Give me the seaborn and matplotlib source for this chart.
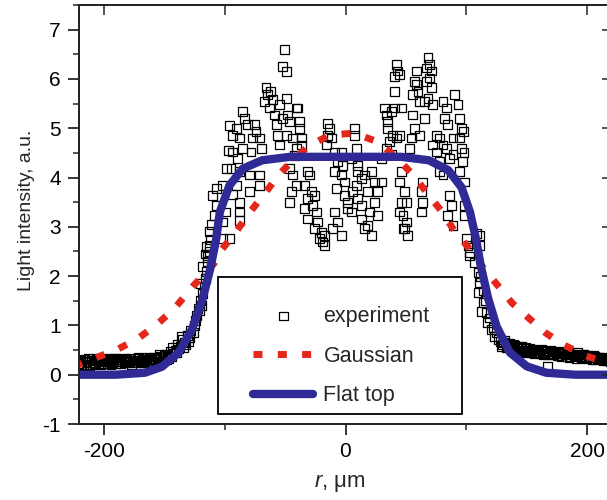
import matplotlib
matplotlib.use("Agg")
import matplotlib.pyplot as plt
from matplotlib.patches import Rectangle
from matplotlib.ticker import MultipleLocator, NullFormatter
import pandas as pd
import seaborn as sns

# ---------------- measured profile: r (um) and intensity (a.u.) ----------------
tail_left_r = [-221, -219, -217, -215, -213, -211, -209, -207, -205, -203, -201, -199,
               -197, -195, -193, -191, -189, -187, -185, -183, -181, -179, -177, -175,
               -173, -171, -169, -167, -165, -163, -161, -159, -157, -155, -153,
               -220, -218, -216, -214, -212, -210, -208, -206, -204, -202, -200, -198,
               -196, -194, -192, -190, -188, -186, -184, -182, -180, -178, -176, -174,
               -172, -170, -168, -166, -164, -162, -160, -158, -156, -154]
tail_left_i = [0.22, 0.30, 0.18, 0.27, 0.33, 0.21, 0.28, 0.24, 0.31, 0.20, 0.27, 0.33,
               0.23, 0.29, 0.25, 0.34, 0.22, 0.30, 0.27, 0.24, 0.32, 0.26, 0.21, 0.30,
               0.28, 0.35, 0.24, 0.29, 0.32, 0.26, 0.30, 0.36, 0.28, 0.33, 0.38,
               0.28, 0.20, 0.32, 0.24, 0.19, 0.30, 0.23, 0.33, 0.26, 0.29, 0.22, 0.26,
               0.31, 0.21, 0.33, 0.27, 0.31, 0.23, 0.34, 0.29, 0.24, 0.33, 0.28, 0.25,
               0.34, 0.27, 0.31, 0.25, 0.36, 0.33, 0.27, 0.31, 0.35, 0.41]

edge_left_r = [-151, -149, -147, -145, -143, -141, -139, -137, -135, -133, -131, -129,
               -140, -136, -134, -132, -144, -148, -150, -146, -142, -138, -130,
               -128, -126, -125, -124, -123, -122, -121, -120, -119, -118, -117, -116,
               -115, -114, -113, -112, -115, -116, -113, -111, -118, -120]
edge_left_i = [0.34, 0.42, 0.38, 0.47, 0.55, 0.50, 0.62, 0.58, 0.72, 0.66, 0.80, 0.75,
               0.45, 0.78, 0.55, 0.62, 0.36, 0.30, 0.40, 0.33, 0.44, 0.52, 0.68,
               0.90, 0.85, 1.00, 1.10, 1.20, 1.35, 1.30, 1.50, 1.40, 1.65, 1.80, 1.95,
               2.10, 2.30, 2.50, 2.75, 2.60, 2.45, 2.90, 3.05, 2.20, 1.85]

peak_left_r = [-114, -112.6, -101.6, -96, -108.5, -107, -110, -107, -101.6, -98.8,
               -101.6, -87.8, -87.8, -87.8, -93.3, -90.5, -79.5, -71.2, -71.2, -79.5,
               -87.8, -94.7, -98.6, -97, -96, -89.2, -93.3, -85, -78.1, -69.8,
               -87.8, -76.8, -71.2, -74, -75.4, -80.9, -93.3, -90.5, -83.6, -85,
               -65.7, -64.3, -67, -60.2, -62.9, -54.7, -49.1, -58.8, -51.9, -47.8,
               -57.4, -46.4, -56, -49.1, -54.7, -43.6, -40.8, -40.8, -50.5, -51.9,
               -49.1, -46.4, -43.6, -45, -46.4, -62, -42, -40.6]
peak_left_i = [2.41, 2.62, 2.76, 2.76, 3.23, 3.43, 3.64, 3.78, 3.10, 3.30,
               3.84, 3.30, 3.13, 3.50, 3.65, 3.84, 3.71, 3.84, 4.05, 4.05,
               4.12, 4.18, 4.18, 4.55, 5.06, 4.39, 4.52, 4.59, 4.52, 4.59,
               4.80, 4.80, 4.80, 4.93, 5.07, 5.07, 4.86, 5.00, 5.20, 5.34,
               5.82, 5.68, 5.54, 5.58, 5.41, 5.48, 5.61, 5.27, 5.20, 5.27,
               5.07, 5.14, 4.86, 4.86, 4.66, 4.80, 5.41, 4.59, 6.60, 6.26,
               6.15, 4.18, 4.05, 3.71, 3.50, 5.75, 4.45, 3.84]

center_r = [-39.5, -38.1, -38.1, -36.7, -36.7, -31.2, -29.8, -34, -28.4, -25.7,
            -31.2, -34, -27.1, -24.3, -31.2, -22.9, -25.7, -20.1, -17.4, -18.8,
            -21.5, -17.4, -14.6, -13.3, -14.6, -11.9, -16, -9.1, -3.6, -6.4,
            -2.2, -9.1, -3.6, -0.8, -7.7, -0.8, 1.9, -9.1, 1.9, -6.4,
            -10.5, -3.6, 7.5, 7.5, 8.9, 4.7, 10.2, 10.2, 13, 8.9,
            6.0, 10.2, 13, 4.7, 13, 15.7, 21.3, 24, 29.6, 18.5,
            26.8, 24, 19.9, 26.8, 18.5, 21.3, 15.7, 32.3, 33.7, 37.8,
            35, 40.6, 35, 39.2, 36.4, 42, 33.7, 37.8, 29.6, 40.6,
            42, 43.3, 40.6, 46.1, 44.7, 48.9, 46.1, 47.5, 48.9]
center_i = [5.41, 5.14, 5.00, 4.80, 4.66, 4.12, 4.05, 3.84, 3.71, 3.64,
            3.57, 3.37, 3.43, 3.30, 3.16, 3.10, 2.96, 2.89, 2.82, 2.69,
            2.76, 2.62, 5.10, 5.00, 4.86, 4.80, 4.66, 4.52, 4.52, 4.32,
            4.25, 4.12, 4.05, 3.91, 3.78, 3.64, 3.50, 3.30, 3.37, 3.10,
            2.96, 2.82, 5.00, 4.86, 4.59, 4.39, 4.25, 4.12, 3.98, 3.84,
            3.71, 3.57, 3.43, 3.30, 3.16, 4.05, 4.12, 3.91, 3.91, 3.71,
            3.71, 3.50, 3.30, 3.23, 3.03, 2.82, 2.96, 5.41, 5.27, 5.34,
            5.14, 5.41, 5.00, 4.86, 4.73, 4.80, 4.59, 4.46, 4.39, 5.75,
            6.29, 6.16, 6.05, 4.12, 3.91, 3.71, 3.50, 3.23, 2.96]

peak_right_r = [68.2, 69.6, 66.8, 71, 69.6, 71, 66.8, 68.2, 65.4, 72.3,
                58.5, 57.1, 58.5, 55.7, 59.9, 61.3, 55.7, 65.4, 57.1, 61.3,
                54.4, 53, 44.7, 46.1, 44.7, 75.1, 77.8, 72.3, 80.6, 75.1,
                83.4, 77.8, 86.1, 77.8, 80.6, 80.6, 83.4, 82, 84.7, 90.3,
                93, 94.4, 95.8, 94.4, 95.8, 97.1, 88.9, 88.9, 97.5, 98,
                50.3, 44.7, 50.3, 47.5, 51.6, 64, 62.7, 64, 62.7, 86.1,
                87.5, 84.7, 88.9, 98.6, 98.6, 98.6, 99.9, 101.3, 102.7, 111,
                111, 94.4]
peak_right_i = [6.43, 6.29, 6.22, 6.16, 6.02, 5.82, 5.95, 5.61, 5.54, 5.48,
                6.16, 5.95, 5.88, 5.68, 5.75, 5.54, 5.27, 5.20, 5.00, 4.86,
                4.80, 4.59, 6.09, 5.41, 4.86, 4.86, 4.80, 4.66, 4.66, 4.52,
                4.59, 4.32, 4.39, 4.12, 4.05, 5.54, 5.41, 5.20, 5.07, 5.68,
                5.48, 5.20, 5.00, 4.80, 4.59, 4.32, 4.80, 4.46, 4.93, 4.50,
                3.50, 3.30, 3.10, 2.96, 2.82, 3.91, 3.71, 3.50, 3.30, 3.64,
                3.43, 3.23, 3.03, 3.91, 3.43, 3.23, 2.76, 2.62, 2.48, 2.82,
                2.62, 4.12]

edge_right_r = [108.2, 102.7, 106.8, 109.6, 111, 109.6, 113.7, 112.4, 116.5, 117.8,
                120.7, 123.4, 126.1, 114, 112, 115.5, 119, 122, 124.5]
edge_right_i = [2.86, 2.41, 2.28, 2.07, 1.87, 1.67, 1.46, 1.29, 1.26, 1.06,
                0.92, 0.78, 0.71, 1.70, 2.00, 1.50, 1.15, 0.95, 0.85]

tail_right_r = [128, 130, 132, 134, 136, 138, 140, 142, 144, 146, 148, 150, 152, 154,
                156, 158, 160, 162, 164, 166, 168, 170, 172, 174, 176, 178, 180, 182,
                184, 186, 188, 190, 192, 194, 196, 198, 200, 202, 204, 206, 208, 210,
                212, 214, 216, 218, 220, 167,
                129, 131, 133, 135, 137, 139, 141, 143, 145, 147, 149, 151, 153, 155,
                157, 159, 161, 163, 165, 167, 169, 171, 173, 175, 177, 179, 181, 183,
                185, 187, 189, 191, 193, 195, 197, 199, 201, 203, 205, 207, 209, 211,
                213, 215, 217, 219]
tail_right_i = [0.68, 0.62, 0.70, 0.58, 0.63, 0.52, 0.60, 0.55, 0.48, 0.57, 0.50, 0.44,
                0.53, 0.47, 0.42, 0.50, 0.45, 0.52, 0.40, 0.47, 0.43, 0.50, 0.41, 0.46,
                0.38, 0.44, 0.48, 0.40, 0.45, 0.36, 0.42, 0.39, 0.45, 0.37, 0.41, 0.34,
                0.40, 0.36, 0.31, 0.38, 0.33, 0.36, 0.30, 0.35, 0.29, 0.33, 0.30, 0.16,
                0.58, 0.66, 0.55, 0.64, 0.57, 0.62, 0.50, 0.58, 0.53, 0.46, 0.55, 0.49,
                0.45, 0.51, 0.44, 0.48, 0.42, 0.49, 0.44, 0.40, 0.46, 0.42, 0.47, 0.39,
                0.43, 0.37, 0.45, 0.41, 0.35, 0.42, 0.38, 0.33, 0.40, 0.35, 0.42, 0.32,
                0.37, 0.34, 0.39, 0.30, 0.35, 0.32, 0.28, 0.34, 0.31, 0.27]

# ---------------- model curves ----------------
gauss_r = [-225, -221, -206, -189, -172, -156, -142, -126, -109, -102, -90, -79, -67,
           -55, -42, -30, -13, 7, 26, 40, 55, 67, 80, 89, 101, 113, 125, 138, 152,
           166, 181, 198, 214, 225]
gauss_i = [0.17, 0.20, 0.35, 0.51, 0.73, 1.02, 1.33, 1.80, 2.25, 2.55, 2.92, 3.30, 3.67,
           4.06, 4.39, 4.65, 4.86, 4.90, 4.73, 4.45, 4.08, 3.70, 3.30, 2.96, 2.60, 2.20,
           1.84, 1.45, 1.14, 0.84, 0.60, 0.39, 0.26, 0.20]

flat_r = [-225, -190, -166, -152, -138, -127, -119, -112, -107, -104, -96, -85, -69,
          -46, 0, 46, 69, 85, 96, 103, 108, 112, 118, 125, 136, 150, 166, 190, 225]
flat_i = [0.00, 0.00, 0.04, 0.16, 0.45, 0.92, 1.47, 2.14, 2.75, 3.30, 3.84, 4.18, 4.35,
          4.42, 4.42, 4.42, 4.35, 4.15, 3.80, 3.30, 2.75, 2.20, 1.55, 0.98, 0.45, 0.17,
          0.04, 0.00, 0.00]

legend_labels = ["experiment", "Gaussian", "Flat top"]

exp_df = pd.DataFrame({
    "r": tail_left_r + edge_left_r + peak_left_r + center_r + peak_right_r
         + edge_right_r + tail_right_r,
    "I": tail_left_i + edge_left_i + peak_left_i + center_i + peak_right_i
         + edge_right_i + tail_right_i,
})
gauss_df = pd.DataFrame({"r": gauss_r, "I": gauss_i})
flat_df = pd.DataFrame({"r": flat_r, "I": flat_i})

sns.set_style("ticks")
plt.rcParams["font.family"] = ["Liberation Sans", "DejaVu Sans"]
plt.rcParams["mathtext.fontset"] = "custom"
plt.rcParams["mathtext.it"] = "Liberation Sans:italic"
plt.rcParams["mathtext.rm"] = "Liberation Sans"
plt.rcParams["axes.unicode_minus"] = False

FS = 15.5
fig = plt.figure(figsize=(6.07, 5.0), dpi=100)
pos = [79 / 607, 1 - 424 / 500, (612 - 79) / 607, (424 - 5) / 500]
ax = fig.add_axes(pos)

RED = "#e5261b"
BLUE = "#2f2a95"

sns.scatterplot(data=exp_df, x="r", y="I", ax=ax, marker="s", s=40,
                facecolor="none", edgecolor="black", linewidth=0.9,
                label=legend_labels[0], zorder=2)
sns.lineplot(data=gauss_df, x="r", y="I", ax=ax, sort=False, estimator=None,
             color=RED, linewidth=5, linestyle=(0, (1.3, 2.2)),
             label=legend_labels[1], zorder=3)
sns.lineplot(data=flat_df, x="r", y="I", ax=ax, sort=False, estimator=None,
             color=BLUE, linewidth=6, label=legend_labels[2], zorder=4)
for ln in ax.get_lines():
    ln.set_dash_capstyle("butt")

ax.set_xlim(-220.5, 220.5)
ax.set_ylim(-1, 7.5)
ax.xaxis.set_major_locator(MultipleLocator(200))
ax.xaxis.set_minor_locator(MultipleLocator(100))
ax.yaxis.set_major_locator(MultipleLocator(1))
ax.yaxis.set_minor_locator(MultipleLocator(0.5))
ax.tick_params(which="major", direction="out", length=8, width=1.1,
               labelsize=15, colors="black", top=False, right=False, pad=5)
ax.tick_params(which="minor", direction="out", length=4.5, width=1.1,
               top=False, right=False)
for sp in ax.spines.values():
    sp.set_linewidth(1.3)
    sp.set_color("black")
    sp.set_visible(True)

# inward ticks on the top and right frame
axt = ax.twiny()
axt.set_position(pos)
axt.set_xlim(ax.get_xlim())
axt.xaxis.set_major_locator(MultipleLocator(100))
axt.xaxis.set_major_formatter(NullFormatter())
axt.tick_params(which="major", direction="in", length=7, width=1.1, top=True)
axr = ax.twinx()
axr.set_position(pos)
axr.set_ylim(ax.get_ylim())
axr.yaxis.set_major_locator(MultipleLocator(1))
axr.yaxis.set_minor_locator(MultipleLocator(0.5))
axr.yaxis.set_major_formatter(NullFormatter())
axr.tick_params(which="major", direction="in", length=7, width=1.1, right=True)
axr.tick_params(which="minor", direction="in", length=4, width=0.8, right=True,
                color="#cccccc")
for a in (axt, axr):
    for sp in a.spines.values():
        sp.set_linewidth(1.3)

ax.set_xlabel(r"$r$, μm", fontsize=16)
ax.xaxis.set_label_coords(0.49, -0.115)
ax.set_ylabel("Light intensity, a.u.", fontsize=14)
ax.yaxis.set_label_coords(-0.083, 0.511)

# legend frame and entries
ax.add_patch(Rectangle((0.2608, 0.0239), 0.4578, 0.327, transform=ax.transAxes,
                       facecolor="white", edgecolor="black", linewidth=1.3,
                       zorder=5))
leg = ax.legend(loc="upper left", bbox_to_anchor=(0.3265, 0.2826), frameon=False,
                fontsize=FS, borderpad=0, borderaxespad=0, handlelength=2.8,
                handletextpad=0.47, labelspacing=0.88)
leg.set_zorder(6)

fig.savefig("out.png", dpi=100)
